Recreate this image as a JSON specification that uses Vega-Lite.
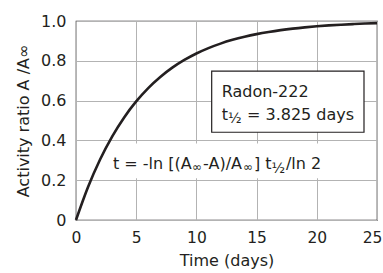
{
  "$schema": "https://vega.github.io/schema/vega-lite/v6.json",
  "width": 301,
  "height": 199,
  "autosize": {"type": "none"},
  "padding": {"left": 76, "top": 21, "right": 6, "bottom": 53},
  "background": "white",
  "config": {
    "font": "DejaVu Sans",
    "view": {"stroke": "#231f20", "strokeWidth": 1.2},
    "axis": {
      "ticks": false,
      "domain": false,
      "grid": true,
      "gridColor": "#b3b3b3",
      "gridWidth": 1,
      "labelFontSize": 16,
      "labelColor": "#231f20",
      "titleFontSize": 16,
      "titleFontWeight": "normal",
      "titleColor": "#231f20",
      "labelFlush": false
    }
  },
  "encoding": {
    "x": {
      "field": "x",
      "type": "quantitative",
      "scale": {"domain": [0, 25], "nice": false, "zero": false},
      "axis": {
        "values": [0, 5, 10, 15, 20, 25],
        "labelFontSize": 15.5,
        "labelPadding": 10,
        "labelOffset": {"condition": {"test": "datum.value == 25", "value": -5}, "value": 0},
        "titlePadding": 7,
        "title": "Time (days)"
      }
    },
    "y": {
      "field": "y",
      "type": "quantitative",
      "scale": {"domain": [0, 1], "nice": false},
      "axis": {
        "values": [0, 0.2, 0.4, 0.6, 0.8, 1.0],
        "labelExpr": "datum.value == 0 ? '0' : format(datum.value, '.1f')",
        "labelPadding": 10,
        "titlePadding": 9,
        "title": "Activity ratio A /A∞"
      }
    }
  },
  "layer": [
    {
      "data": {"values": [{"x": 2.4, "x2": 21.6, "y": 0.21, "y2": 0.385}]},
      "mark": {"type": "rect", "fill": "white", "stroke": null},
      "encoding": {"x2": {"field": "x2"}, "y2": {"field": "y2"}}
    },
    {
      "data": {"values": [{"x": 11.27, "x2": 23.92, "y": 0.441, "y2": 0.748}]},
      "mark": {"type": "rect", "fill": "white", "stroke": "#231f20", "strokeWidth": 1.2},
      "encoding": {"x2": {"field": "x2"}, "y2": {"field": "y2"}}
    },
    {
      "data": {"values": [
        {"x": 0, "y": 0}, {"x": 1, "y": 0.1657}, {"x": 2, "y": 0.304}, {"x": 3, "y": 0.4193},
        {"x": 4, "y": 0.5156}, {"x": 5, "y": 0.5959}, {"x": 6, "y": 0.6629}, {"x": 7, "y": 0.7187},
        {"x": 8, "y": 0.7654}, {"x": 9, "y": 0.8042}, {"x": 10, "y": 0.8367}, {"x": 11, "y": 0.8638},
        {"x": 12, "y": 0.8863}, {"x": 13, "y": 0.9052}, {"x": 14, "y": 0.9209}, {"x": 15, "y": 0.934},
        {"x": 16, "y": 0.9449}, {"x": 17, "y": 0.9541}, {"x": 18, "y": 0.9617}, {"x": 19, "y": 0.968},
        {"x": 20, "y": 0.9733}, {"x": 21, "y": 0.9778}, {"x": 22, "y": 0.9814}, {"x": 23, "y": 0.9845},
        {"x": 24, "y": 0.9871}, {"x": 25, "y": 0.9892}
      ]},
      "mark": {"type": "line", "color": "#231f20", "strokeWidth": 2.6, "interpolate": "monotone"}
    },
    {
      "data": {"values": [
        {"x": 12.1, "y": 0.62, "label": "Radon-222"},
        {"x": 12.1, "y": 0.505, "label": "t"},
        {"x": 14.2, "y": 0.505, "label": "= 3.825 days"},
        {"x": 3.07, "y": 0.254, "label": "t = -ln [(A"},
        {"x": 10.55, "y": 0.254, "label": "-A)/A"},
        {"x": 14.78, "y": 0.254, "label": "] t"},
        {"x": 17.44, "y": 0.254, "label": "/ln 2"}
      ]},
      "mark": {"type": "text", "align": "left", "baseline": "alphabetic", "fontSize": 16, "color": "#231f20"},
      "encoding": {"text": {"field": "label"}}
    },
    {
      "data": {"values": [
        {"x": 9.63, "y": 0.244, "label": "∞"},
        {"x": 13.87, "y": 0.244, "label": "∞"}
      ]},
      "mark": {"type": "text", "align": "left", "baseline": "alphabetic", "fontSize": 12, "color": "#231f20"},
      "encoding": {"text": {"field": "label"}}
    },
    {
      "data": {"values": [
        {"x": 12.62, "y": 0.485, "label": "½"},
        {"x": 16.23, "y": 0.234, "label": "½"}
      ]},
      "mark": {"type": "text", "align": "left", "baseline": "alphabetic", "fontSize": 14, "color": "#231f20"},
      "encoding": {"text": {"field": "label"}}
    }
  ]
}
